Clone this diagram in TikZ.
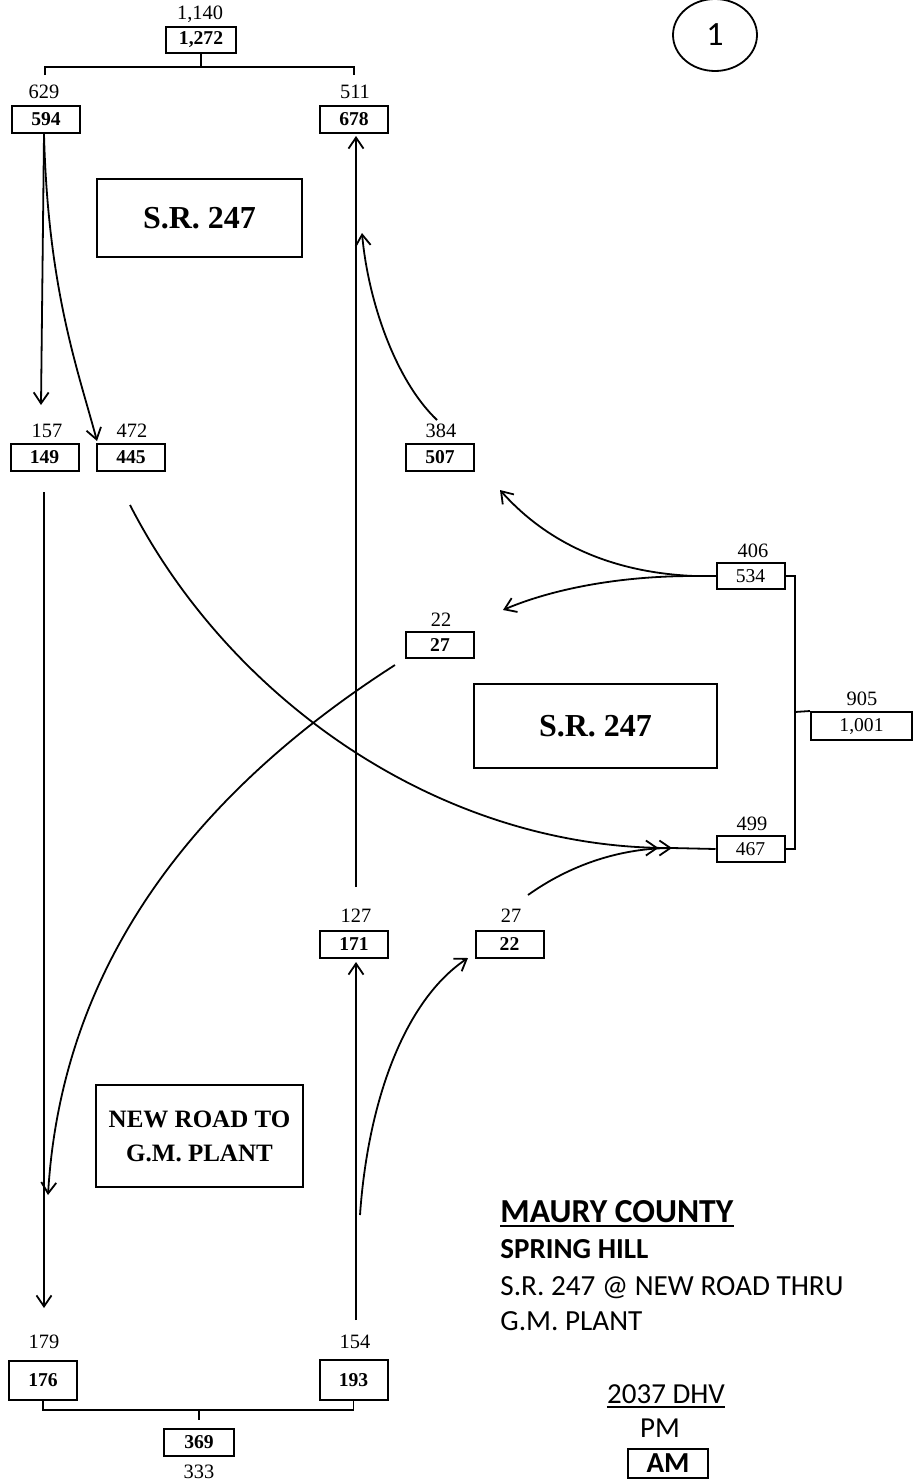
\documentclass[tikz,border=0pt]{standalone}
\usepackage{fontspec}
\setmainfont{Liberation Serif}
\newfontfamily\carl{Carlito}
\usetikzlibrary{arrows.meta,shapes.geometric}
\begin{document}
\begin{tikzpicture}[x=0.5pt,y=-0.5pt,
  nbox/.style={draw,line width=1pt,inner sep=0pt,minimum width=34pt,minimum height=13.5pt,font=\fontsize{9.8}{10}\selectfont\bfseries},
  rbox/.style={nbox,font=\fontsize{9.8}{10}\selectfont},
  lab/.style={inner sep=0pt,font=\fontsize{10.2}{11}\selectfont},
  road/.style={draw,line width=1pt,inner sep=0pt,font=\fontsize{16}{18}\selectfont\bfseries,align=center},
  conn/.style={line width=0.9pt},
  arr/.style={conn,-{Straight Barb[length=5.5pt,width=7.5pt,line width=0.9pt]}},
  darr/.style={conn,-{Straight Barb[length=5.5pt,width=7.5pt,line width=0.9pt]Straight Barb[length=5.5pt,width=7.5pt,line width=0.9pt]}},
  brk/.style={line width=0.9pt}
]
\useasboundingbox (0,0) rectangle (917,1483);

% circle
\node[draw,line width=0.9pt,ellipse,minimum width=42pt,minimum height=36pt,inner sep=0pt,font=\carl\fontsize{17}{19}\selectfont] (num) at (715,35) {1};

% road name boxes
\node[road,minimum width=102.5pt,minimum height=39pt] (sr1) at (199.5,218) {S.R. 247};
\node[road,minimum width=121.5pt,minimum height=42pt] (sr2) at (595.5,726) {S.R. 247};
\node[road,minimum width=103.5pt,minimum height=51pt,font=\fontsize{12.5}{17}\selectfont\bfseries] (nr) at (199.5,1136) {NEW ROAD TO\\G.M. PLANT};

% volume boxes
\node[nbox,minimum width=35pt,minimum height=13pt] (b1272) at (201,40) {1,272};
\node[lab] (l1140) at (200,14) {1,140};
\node[nbox] (b594) at (46,119.5) {594};
\node[lab] (l629) at (44,92) {629};
\node[nbox] (b678) at (354,119) {678};
\node[lab] (l511) at (355,92) {511};
\node[nbox] (b149) at (44.5,457) {149};
\node[lab] (l157) at (47,431) {157};
\node[nbox] (b445) at (131,457) {445};
\node[lab] (l472) at (132,431) {472};
\node[nbox] (b507) at (440,457) {507};
\node[lab] (l384) at (441,431) {384};
\node[rbox,minimum height=13pt] (b534) at (750.5,576) {534};
\node[lab] (l406) at (753,551) {406};
\node[nbox,minimum height=13pt] (b27) at (440,645) {27};
\node[lab] (l22) at (441,620) {22};
\node[rbox,minimum width=50.5pt,minimum height=14pt] (b1001) at (861.5,726) {1,001};
\node[lab] (l905) at (862,699) {905};
\node[rbox,minimum height=13pt] (b467) at (750.5,849) {467};
\node[lab] (l499) at (752,824) {499};
\node[nbox] (b171) at (354,944.5) {171};
\node[lab] (l127) at (356,916) {127};
\node[nbox] (b22) at (509.5,944) {22};
\node[lab] (l27) at (511,916) {27};
\node[nbox,minimum height=19.5pt] (b176) at (43,1380.5) {176};
\node[lab] (l179) at (44,1342) {179};
\node[nbox,minimum height=20pt] (b193) at (353.5,1380) {193};
\node[lab] (l154) at (355,1342) {154};
\node[nbox,minimum width=35pt] (b369) at (199,1442.5) {369};
\node[lab] (l333) at (199,1472) {333};

% brackets
\coordinate (tt) at (201,67);
\coordinate (tl) at (45,75);
\coordinate (tr) at (354,75);
\draw[brk] (b1272.south) -- (tt);
\draw[brk] (tl) -- (45,67) -- (354,67) -- (tr);
\coordinate (rt) at (795,576);
\coordinate (rb) at (795,849);
\draw[brk] (b534.east) -- (rt) -- (rb) -- (b467.east);
\draw[brk] (795,712) -- (b1001.north west);
\coordinate (bt) at (199,1420);
\draw[brk] (b176.south) -- (43,1410) -- (353.5,1410) -- (b193.south);
\draw[brk] (199,1410) -- (bt);

% connector end points
\coordinate (s594) at (44,134);
\coordinate (e149) at (41,405);
\coordinate (e445) at (97,441);
\coordinate (s384) at (437,420);
\coordinate (e384) at (362,233);
\coordinate (s678) at (356,887);
\coordinate (e678) at (356,136);
\coordinate (fork) at (694,576);
\coordinate (e507) at (500,490);
\coordinate (e27) at (503,610);
\coordinate (s27) at (395,665);
\coordinate (e176a) at (48,1195);
\coordinate (s149) at (44,492);
\coordinate (e176) at (44,1308);
\coordinate (s445) at (130,505);
\coordinate (m467) at (672,848);
\coordinate (s22) at (528,895);
\coordinate (s193) at (356,1320);
\coordinate (e171) at (356,962);
\coordinate (s193b) at (360,1215);
\coordinate (e22) at (468,958);

% connectors
\draw[arr] (s594) -- (e149);
\draw[arr] (s594) .. controls (48,290) and (78,370) .. (e445);
\draw[arr] (s384) .. controls (395,380) and (368,300) .. (e384);
\draw[arr] (s678) -- (e678);
\draw[conn] (b534.west) -- (fork);
\draw[arr] (fork) .. controls (600,572) and (540,535) .. (e507);
\draw[arr] (fork) .. controls (610,576) and (545,592) .. (e27);
\draw[arr] (s27) .. controls (200,790) and (62,960) .. (e176a);
\draw[arr] (s149) -- (e176);
\draw[darr] (s445) .. controls (230,700) and (440,848) .. (m467);
\draw[conn] (m467) -- (b467.west);
\draw[conn] (s22) .. controls (570,865) and (620,848) .. (m467);
\draw[arr] (s193) -- (e171);
\draw[arr] (s193b) .. controls (368,1100) and (405,1000) .. (e22);

% legend text
\node[anchor=base west,inner sep=0pt,font=\carl\bfseries\fontsize{16.8}{20}\selectfont] (t1) at (500,1222) {MAURY COUNTY};
\draw[line width=1pt] ([yshift=-2pt]t1.base west) -- ([yshift=-2pt]t1.base east);
\node[anchor=base west,inner sep=0pt,font=\carl\bfseries\fontsize{14.5}{16}\selectfont] (t2) at (500,1258) {SPRING HILL};
\node[anchor=base west,inner sep=0pt,font=\carl\fontsize{14.6}{16}\selectfont] (t3) at (500,1295) {S.R. 247 @ NEW ROAD THRU};
\node[anchor=base west,inner sep=0pt,font=\carl\fontsize{14.6}{16}\selectfont] (t4) at (500,1330) {G.M. PLANT};
\node[anchor=base,inner sep=0pt,font=\carl\fontsize{14.5}{16}\selectfont] (t5) at (666,1403) {2037 DHV};
\draw[line width=1pt] ([yshift=-2pt]t5.base west) -- ([yshift=-2pt]t5.base east);
\node[anchor=base,inner sep=0pt,font=\carl\fontsize{14.5}{16}\selectfont] (t6) at (660,1437) {PM};
\node[draw,line width=1pt,inner sep=0pt,minimum width=40pt,minimum height=14.5pt,font=\carl\bfseries\fontsize{14.5}{16}\selectfont] (t7) at (668,1463.5) {AM};
\end{tikzpicture}
\end{document}
